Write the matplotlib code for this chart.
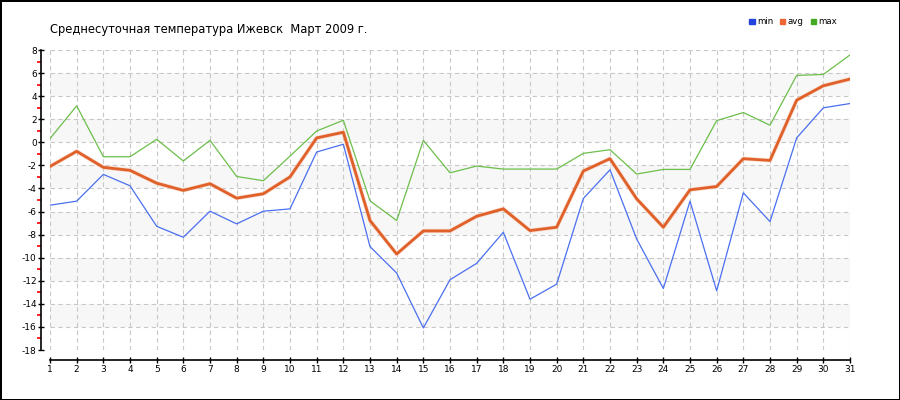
import matplotlib
matplotlib.use('Agg')
import matplotlib.pyplot as plt
from matplotlib.patches import Patch

# Среднесуточная температура, Ижевск, март 2009
days = list(range(1, 32))
t_min = [-5.45, -5.1, -2.78, -3.77, -7.28, -8.23, -5.97, -7.07, -5.97, -5.77,
         -0.84, -0.17, -9.04, -11.33, -16.09, -11.91, -10.49, -7.8, -13.6, -12.29,
         -4.87, -2.38, -8.38, -12.67, -5.1, -12.87, -4.38, -6.87, 0.38, 2.99, 3.36]
t_avg = [-2.09, -0.78, -2.17, -2.43, -3.54, -4.17, -3.59, -4.84, -4.46, -3.0,
         0.38, 0.87, -6.78, -9.68, -7.68, -7.68, -6.41, -5.77, -7.65, -7.36,
         -2.49, -1.42, -4.9, -7.36, -4.12, -3.83, -1.42, -1.57, 3.65, 4.9, 5.48]
t_max = [0.32, 3.16, -1.25, -1.25, 0.26, -1.62, 0.17, -2.96, -3.33, -1.2,
         0.98, 1.91, -5.07, -6.78, 0.17, -2.64, -2.06, -2.32, -2.32, -2.32,
         -0.96, -0.64, -2.75, -2.35, -2.35, 1.88, 2.58, 1.48, 5.8, 5.88, 7.57]
y_major = list(range(-18, 9, 2))
y_minor = list(range(-17, 8, 2))
title = 'Среднесуточная температура Ижевск  Март 2009 г.'

plt.rcParams['font.family'] = ['DejaVu Sans']
plt.rcParams['axes.unicode_minus'] = False

fig = plt.figure(figsize=(9, 4), dpi=100)
fig.patch.set_edgecolor('black')
fig.patch.set_linewidth(2.0)
ax = fig.add_axes([50 / 900, 50 / 400, 800 / 900, 300 / 400])

# полосы фона
for lo in range(-16, 8, 4):
    ax.axhspan(lo, lo + 2, color='#f7f7f7', zorder=0, lw=0)

ax.plot(days, t_min, color='#4a6ff0', lw=0.9, zorder=3)
ax.plot(days, t_max, color='#6cbf4a', lw=0.9, zorder=3)
ax.plot(days, t_avg, color='#f8c4aa', lw=3.0, alpha=0.6, zorder=4)
ax.plot(days, t_avg, color='#e0602a', lw=2.0, zorder=5)

ax.set_xlim(1, 31)
ax.set_ylim(-18, 8)
ax.set_xticks(days)
ax.set_yticks(y_major)
ax.set_yticks(y_minor, minor=True)
ax.grid(True, which='major', color='#c8c8c8', linestyle=(0, (4, 3)), lw=0.8)

for s in ['top', 'right']:
    ax.spines[s].set_visible(False)
ax.spines['left'].set_position(('outward', 6.5))
ax.spines['bottom'].set_position(('outward', 7.2))
ax.spines['left'].set_linewidth(1.2)
ax.spines['bottom'].set_linewidth(1.2)

ax.tick_params(axis='y', which='major', direction='inout', length=4, width=1,
               labelsize=6.5, pad=1)
ax.tick_params(axis='y', which='minor', direction='out', length=3, width=1.2,
               color='red')
ax.tick_params(axis='x', which='major', direction='inout', length=5, width=1,
               labelsize=6.5, pad=1)

fig.text(50 / 900, 1 - 29 / 400, title, fontsize=8.3, va='center', ha='left')

handles = [Patch(color='#2244dd', label='min'),
           Patch(color='#ee6633', label='avg'),
           Patch(color='#44aa22', label='max')]
fig.legend(handles=handles, loc='center right', bbox_to_anchor=(845 / 900, 1 - 22 / 400),
           ncol=3, frameon=False, fontsize=6.2, handlelength=0.6, handleheight=0.6,
           handletextpad=0.3, columnspacing=0.8)

fig.savefig('out.png', dpi=100, edgecolor=fig.get_edgecolor())
